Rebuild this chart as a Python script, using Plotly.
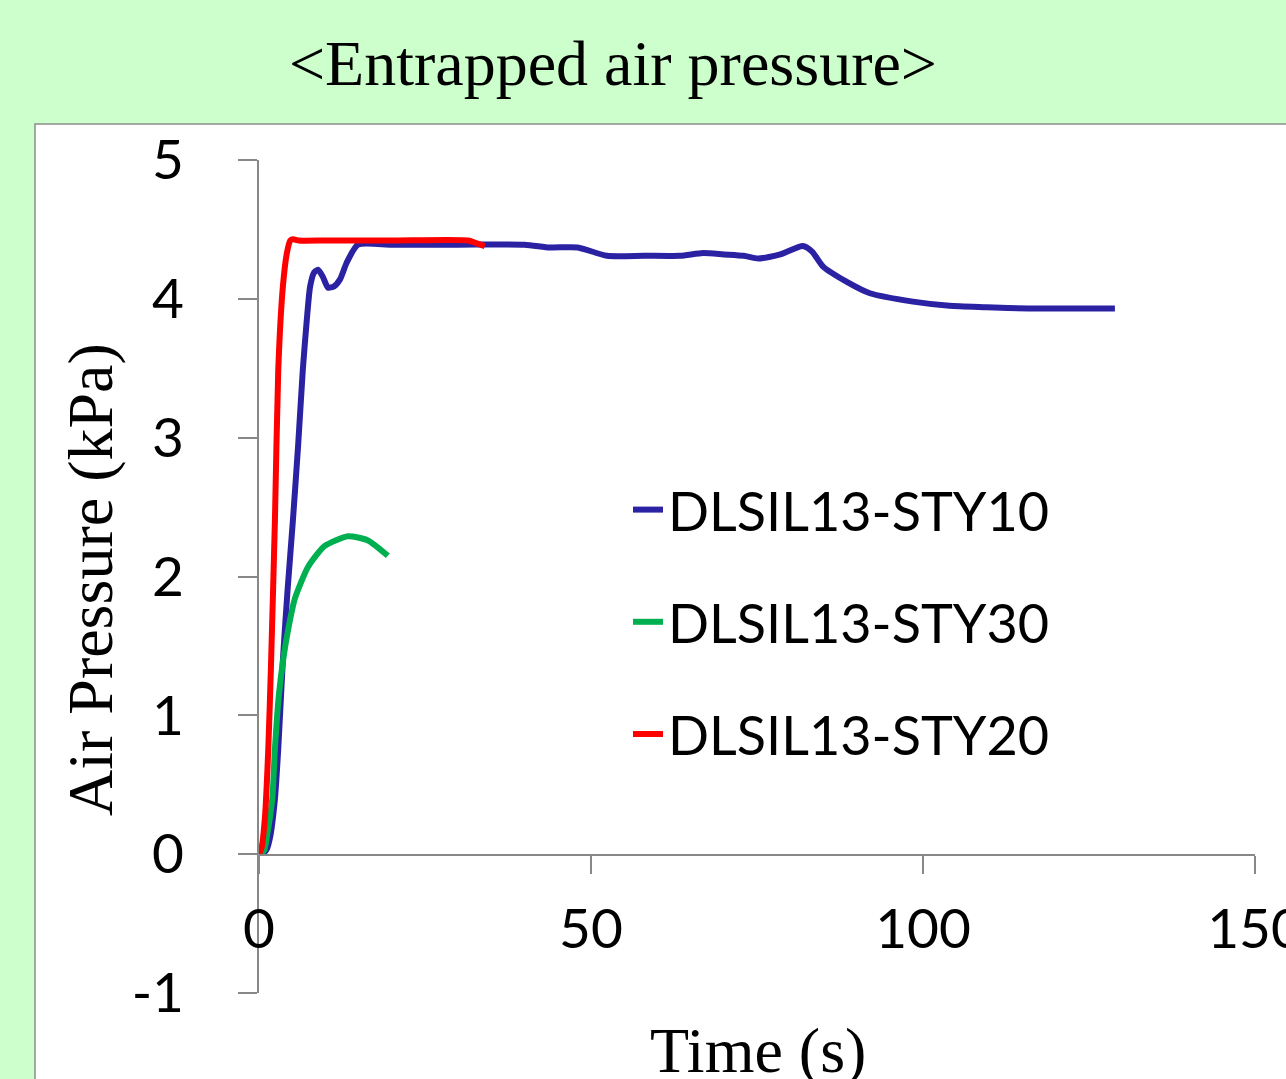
import plotly.graph_objects as go

# ---- data ----
t_sty10 = [0.6, 1.2, 1.7, 2.4, 2.9, 3.6, 4.3, 5.1, 5.9, 6.6, 7.2, 7.7, 8.3, 8.9, 9.6, 10.4, 11.3, 12.2, 13.2,
           14.9, 20, 30, 40, 43.8, 48, 52.4, 58, 63.4, 66.9, 70, 73, 75.2, 78.5, 81.9, 83.3, 85, 88.6, 92,
           98.5, 104, 109.6, 116, 122, 128.9]
p_sty10 = [0, 0.04, 0.13, 0.4, 0.76, 1.4, 1.9, 2.4, 2.95, 3.49, 3.85, 4.09, 4.19, 4.21, 4.16, 4.08, 4.09, 4.14,
           4.26, 4.39, 4.39, 4.39, 4.39, 4.37, 4.37, 4.31, 4.31, 4.31, 4.33, 4.32, 4.31, 4.29, 4.32, 4.38,
           4.34, 4.23, 4.12, 4.04, 3.98, 3.95, 3.94, 3.93, 3.93, 3.93]

t_sty30 = [0.3, 0.8, 1.2, 2.0, 2.4, 3.0, 3.7, 4.4, 5.4, 7.4, 9.9, 13.4, 16.4, 19.4]
p_sty30 = [0, 0.03, 0.13, 0.4, 0.76, 1.15, 1.42, 1.62, 1.84, 2.07, 2.22, 2.29, 2.26, 2.15]

t_sty20 = [0, 0.4, 0.9, 1.4, 1.8, 2.4, 2.9, 3.6, 4.2, 4.7, 5.1, 6, 10, 20, 31.5, 32.8, 34]
p_sty20 = [0, 0.05, 0.27, 0.76, 1.35, 2.41, 3.49, 4.09, 4.33, 4.42, 4.43, 4.42, 4.42, 4.42, 4.42, 4.40, 4.38]

series_names = ["DLSIL13-STY10", "DLSIL13-STY30", "DLSIL13-STY20"]
x_ticks = [0, 50, 100, 150]
y_ticks = [-1, 0, 1, 2, 3, 4, 5]
y_tick_labels = ["-1", "0", "1", "2", "3", "4", "5"]

colors = ["#2B22A3", "#00B050", "#FF0000"]

fig = go.Figure()
for i, (t, p) in enumerate([(t_sty10, p_sty10), (t_sty30, p_sty30), (t_sty20, p_sty20)]):
    fig.add_trace(go.Scatter(
        x=t, y=p, mode="lines", name=series_names[i], legendgroup=f"g{i}",
        line=dict(color=colors[i], width=6, shape="spline", smoothing=0.6),
    ))

W, H = 1286, 1079
L, R, T, B = 259, 1255, 160, 993


def px_x(px):
    return (px - L) / (R - L)


def px_y(py):
    return (B - py) / (B - T)


axis_grey = "#888888"

fig.update_layout(
    width=W, height=H,
    margin=dict(l=L, r=W - R, t=T, b=H - B, autoexpand=False),
    paper_bgcolor="#CCFFCC",
    plot_bgcolor="white",
    showlegend=True,
    legend=dict(
        x=px_x(628), y=px_y(468), xanchor="left", yanchor="top",
        font=dict(family="Lato", size=54, color="black"),
        bgcolor="rgba(0,0,0,0)", tracegroupgap=39,
    ),
    xaxis=dict(
        range=[0, 150], tickvals=x_ticks, ticks="outside", ticklen=18, tickwidth=2,
        tickcolor=axis_grey, showline=True, linecolor=axis_grey, linewidth=2,
        showgrid=False, zeroline=False, anchor="free", position=px_y(855),
        tickfont=dict(family="Lato", size=55, color="black"), ticklabelstandoff=8,
        ticklabeloverflow="allow", automargin=False,
    ),
    yaxis=dict(
        range=[-1, 5], tickvals=y_ticks, ticktext=y_tick_labels, ticks="outside", ticklen=19, tickwidth=2,
        tickcolor=axis_grey, showline=True, linecolor=axis_grey, linewidth=2,
        showgrid=False, zeroline=False, automargin=False,
        tickfont=dict(family="Lato", size=55, color="black"), ticklabelstandoff=43,
    ),
    shapes=[dict(
        type="rect", xref="paper", yref="paper", layer="below",
        x0=px_x(35), x1=px_x(1400), y0=px_y(1200), y1=px_y(124),
        fillcolor="white", line=dict(color="#8C8C8C", width=1.5),
    )],
    annotations=[
        dict(text="&lt;Entrapped air pressure&gt;", xref="paper", yref="paper",
             x=px_x(613), y=px_y(63), xanchor="center", yanchor="middle", showarrow=False,
             font=dict(family="Liberation Serif", size=64, color="black")),
        dict(text="Air Pressure (kPa)", xref="paper", yref="paper", textangle=-90,
             x=px_x(90), y=px_y(580), xanchor="center", yanchor="middle", showarrow=False,
             font=dict(family="Liberation Serif", size=64, color="black")),
        dict(text="Time (s)", xref="paper", yref="paper",
             x=px_x(758), y=px_y(1050), xanchor="center", yanchor="middle", showarrow=False,
             font=dict(family="Liberation Serif", size=64, color="black")),
    ],
)

fig.write_html(
    "out.html",
    config={"displayModeBar": False},
    post_script="document.body.style.margin='0';document.body.style.padding='0';"
                "document.body.style.overflow='hidden';",
)
